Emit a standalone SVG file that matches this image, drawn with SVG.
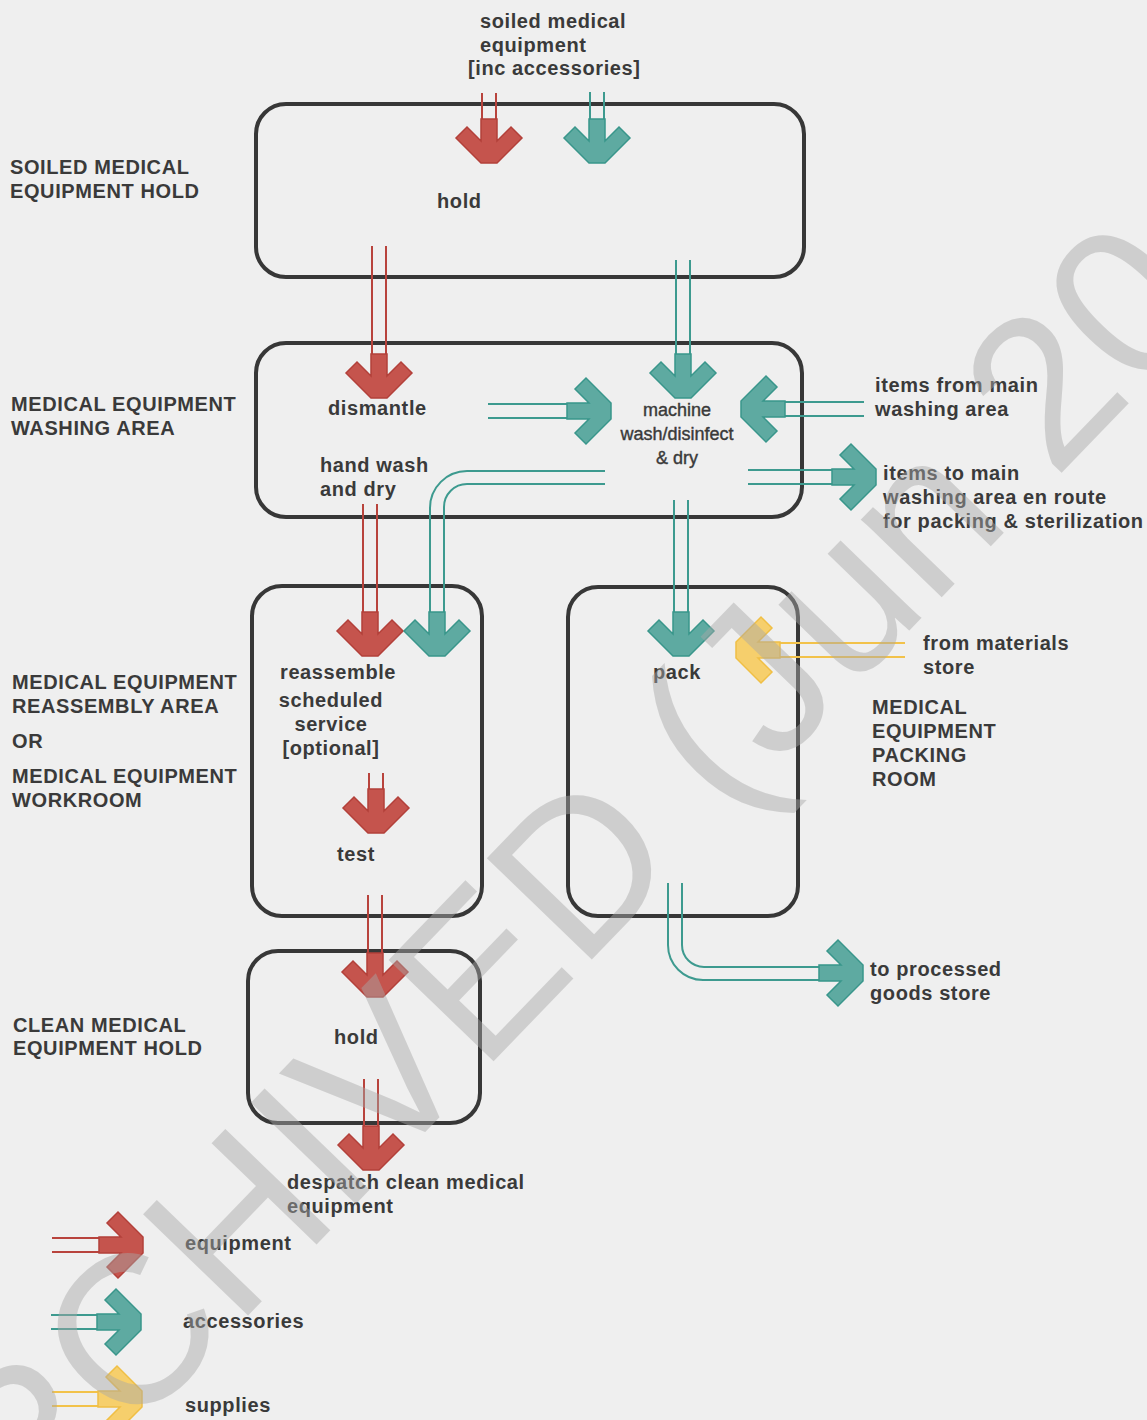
<svg xmlns="http://www.w3.org/2000/svg" xmlns:xlink="http://www.w3.org/1999/xlink" width="1147" height="1420" viewBox="0 0 1147 1420">
  <style>
    .box { fill: none; stroke: #373737; stroke-width: 4; }
    .t { font-family: "Liberation Sans", Arial, sans-serif; font-weight: bold; font-size: 20px; letter-spacing: 0.6px; fill: #3a3a3a; }
    .n { font-family: "Liberation Sans", Arial, sans-serif; font-size: 18px; fill: #3a3a3a; stroke: #3a3a3a; stroke-width: 0.4; }
    .c { text-anchor: middle; }
    .tube { fill: none; stroke-width: 2; }
    .red { fill: #c5544d; stroke: #b3403a; stroke-width: 1.5; }
    .teal { fill: #5eaaa1; stroke: #39968b; stroke-width: 1.5; }
    .yel { fill: #f6cf6c; stroke: #f0bf45; stroke-width: 1.5; }
    .tr { stroke: #b8433c; }
    .tt { stroke: #3d9a8f; }
    .ty { stroke: #f2c24a; }
    .wm { font-family: "Liberation Sans", Arial, sans-serif; font-size: 212px; fill: #a8a8a8; opacity: 0.45; }
  </style>
  <defs>
    <!-- chevron head with filled shaft stub, pointing down, tip at origin -->
    <path id="chev" d="M-8,-44 H8 V-22 L22,-36 L33,-25 L8,0 H-8 L-33,-25 L-22,-36 L-8,-22 Z"/>
  </defs>

  <rect width="1147" height="1420" fill="#efefef"/>

  <!-- rooms -->
  <g id="soiled-hold">
    <rect class="box" x="256" y="104" width="548" height="173" rx="30"/>
    <text class="t" x="437" y="208">hold</text>
  </g>
  <g id="washing-area">
    <rect class="box" x="256" y="343" width="546" height="174" rx="30"/>
    <text class="t" x="328" y="415">dismantle</text>
    <text class="t" x="320" y="472">hand wash</text>
    <text class="t" x="320" y="496">and dry</text>
    <text class="n c" x="677" y="416">machine</text>
    <text class="n c" x="677" y="440">wash/disinfect</text>
    <text class="n c" x="677" y="464">&amp; dry</text>
  </g>
  <g id="reassembly-area">
    <rect class="box" x="252" y="586" width="230" height="330" rx="30"/>
    <text class="t" x="280" y="679">reassemble</text>
    <text class="t c" x="331" y="707">scheduled</text>
    <text class="t c" x="331" y="731">service</text>
    <text class="t c" x="331" y="755">[optional]</text>
    <text class="t" x="337" y="861">test</text>
  </g>
  <g id="packing-room">
    <rect class="box" x="568" y="587" width="230" height="329" rx="30"/>
    <text class="t" x="653" y="679">pack</text>
  </g>
  <g id="clean-hold">
    <rect class="box" x="248" y="951" width="232" height="172" rx="30"/>
    <text class="t" x="334" y="1044">hold</text>
  </g>

  <!-- area titles and external labels -->
  <g id="labels">
    <text class="t" x="480" y="28">soiled medical</text>
    <text class="t" x="480" y="52">equipment</text>
    <text class="t" x="468" y="75">[inc accessories]</text>
    <text class="t" x="10" y="174">SOILED MEDICAL</text>
    <text class="t" x="10" y="198">EQUIPMENT HOLD</text>
    <text class="t" x="11" y="411">MEDICAL EQUIPMENT</text>
    <text class="t" x="11" y="435">WASHING AREA</text>
    <text class="t" x="875" y="392">items from main</text>
    <text class="t" x="875" y="416">washing area</text>
    <text class="t" x="883" y="480">items to main</text>
    <text class="t" x="883" y="504">washing area en route</text>
    <text class="t" x="883" y="528">for packing &amp; sterilization</text>
    <text class="t" x="12" y="689">MEDICAL EQUIPMENT</text>
    <text class="t" x="12" y="713">REASSEMBLY AREA</text>
    <text class="t" x="12" y="748">OR</text>
    <text class="t" x="12" y="783">MEDICAL EQUIPMENT</text>
    <text class="t" x="12" y="807">WORKROOM</text>
    <text class="t" x="923" y="650">from materials</text>
    <text class="t" x="923" y="674">store</text>
    <text class="t" x="872" y="714">MEDICAL</text>
    <text class="t" x="872" y="738">EQUIPMENT</text>
    <text class="t" x="872" y="762">PACKING</text>
    <text class="t" x="872" y="786">ROOM</text>
    <text class="t" x="870" y="976">to processed</text>
    <text class="t" x="870" y="1000">goods store</text>
    <text class="t" x="13" y="1032">CLEAN MEDICAL</text>
    <text class="t" x="13" y="1055">EQUIPMENT HOLD</text>
    <text class="t" x="287" y="1189">despatch clean medical</text>
    <text class="t" x="287" y="1213">equipment</text>
  </g>

  <!-- flow connectors: double-line tubes ending in chevron heads -->
  <g id="connectors">
    <!-- soiled equipment in -->
    <path class="tube tr" d="M482,93 V119 M496,93 V119"/>
    <use xlink:href="#chev" class="red" transform="translate(489,163)"/>
    <path class="tube tt" d="M590,92 V119 M604,92 V119"/>
    <use xlink:href="#chev" class="teal" transform="translate(597,163)"/>
    <!-- hold to dismantle -->
    <path class="tube tr" d="M372,246 V354 M386,246 V354"/>
    <use xlink:href="#chev" class="red" transform="translate(379,398)"/>
    <!-- hold to machine wash -->
    <path class="tube tt" d="M676,260 V354 M690,260 V354"/>
    <use xlink:href="#chev" class="teal" transform="translate(683,398)"/>
    <!-- dismantle to machine wash -->
    <path class="tube tt" d="M488,404 H567 M488,418 H567"/>
    <use xlink:href="#chev" class="teal" transform="translate(611,411) rotate(-90)"/>
    <!-- items from main washing area -->
    <path class="tube tt" d="M785,402 H864 M785,416 H864"/>
    <use xlink:href="#chev" class="teal" transform="translate(741,409) rotate(90)"/>
    <!-- items to main washing area -->
    <path class="tube tt" d="M748,470 H832 M748,484 H832"/>
    <use xlink:href="#chev" class="teal" transform="translate(876,477) rotate(-90)"/>
    <!-- hand wash to reassemble -->
    <path class="tube tr" d="M363,504 V612 M377,504 V612"/>
    <use xlink:href="#chev" class="red" transform="translate(370,656)"/>
    <!-- machine wash accessories to reassemble -->
    <path class="tube tt" d="M605,471 H467 A37,37 0 0 0 430,508 V612 M605,484 H467 A23,23 0 0 0 444,507 V612"/>
    <use xlink:href="#chev" class="teal" transform="translate(437,656)"/>
    <!-- machine wash to pack -->
    <path class="tube tt" d="M674,500 V612 M688,500 V612"/>
    <use xlink:href="#chev" class="teal" transform="translate(681,656)"/>
    <!-- materials store supplies -->
    <path class="tube ty" d="M780,643 H905 M780,657 H905"/>
    <use xlink:href="#chev" class="yel" transform="translate(736,650) rotate(90)"/>
    <!-- test -->
    <path class="tube tr" d="M369,773 V789 M383,773 V789"/>
    <use xlink:href="#chev" class="red" transform="translate(376,833)"/>
    <!-- workroom to clean hold -->
    <path class="tube tr" d="M368,895 V953 M382,895 V953"/>
    <use xlink:href="#chev" class="red" transform="translate(375,997)"/>
    <!-- despatch -->
    <path class="tube tr" d="M364,1079 V1126 M378,1079 V1126"/>
    <use xlink:href="#chev" class="red" transform="translate(371,1170)"/>
    <!-- pack to processed goods store -->
    <path class="tube tt" d="M668,883 V945 A35,35 0 0 0 703,980 H819 M682,883 V945 A22,22 0 0 0 704,967 H819"/>
    <use xlink:href="#chev" class="teal" transform="translate(863,973) rotate(-90)"/>
  </g>

  <!-- key -->
  <g id="legend">
    <path class="tube tr" d="M52,1238 H99 M52,1252 H99"/>
    <use xlink:href="#chev" class="red" transform="translate(143,1245) rotate(-90)"/>
    <text class="t" x="185" y="1250">equipment</text>
    <path class="tube tt" d="M51,1315 H97 M51,1329 H97"/>
    <use xlink:href="#chev" class="teal" transform="translate(141,1322) rotate(-90)"/>
    <text class="t" x="183" y="1328">accessories</text>
    <path class="tube ty" d="M52,1392 H98 M52,1406 H98"/>
    <use xlink:href="#chev" class="yel" transform="translate(142,1399) rotate(-90)"/>
    <text class="t" x="185" y="1412">supplies</text>
  </g>

  <!-- archive stamp across the sheet -->
  <text class="wm" transform="translate(-75,1650) rotate(-46)">ARCHIVED (Jun 20</text>
</svg>
